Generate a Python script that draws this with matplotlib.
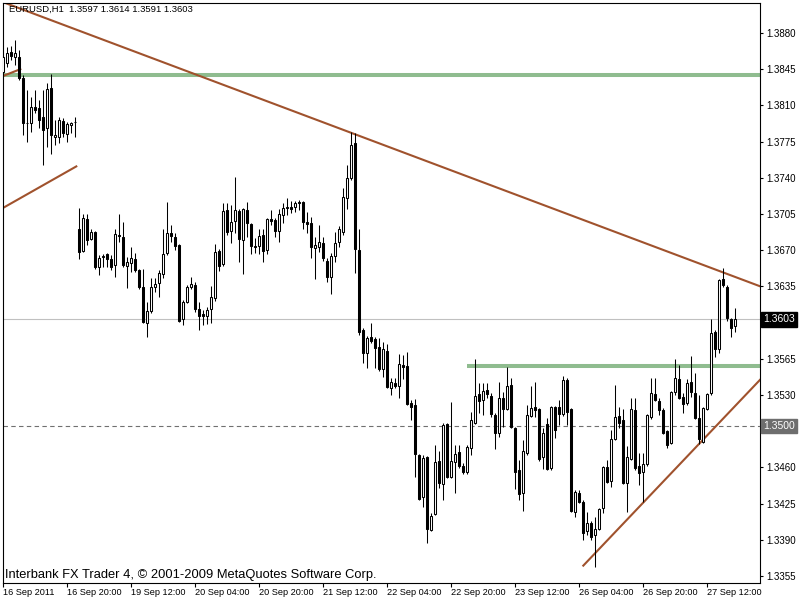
import matplotlib
matplotlib.use("Agg")
import matplotlib.pyplot as plt

plt.rcParams['font.family'] = ['Liberation Sans', 'DejaVu Sans']

# EURUSD H1 candles, bar 0 = 16 Sep 2011
opens = [1.3842, 1.3851, 1.3862, 1.3857, 1.3857, 1.3836, 1.3793, 1.3793, 1.3808, 1.3807,
         1.3799, 1.3788, 1.3827, 1.3779, 1.3779, 1.3795, 1.3782, 1.3791, 1.3794, 1.3690,
         1.3669, 1.3700, 1.3681, 1.3688, 1.3654, 1.3663, 1.3666, 1.3661, 1.3656, 1.3685,
         1.3683, 1.3655, 1.3658, 1.3661, 1.3651, 1.3634, 1.3600, 1.3611, 1.3634, 1.3638,
         1.3647, 1.3667, 1.3687, 1.3683, 1.3675, 1.3603, 1.3620, 1.3634, 1.3636, 1.3613,
         1.3608, 1.3606, 1.3613, 1.3624, 1.3669, 1.3657, 1.3709, 1.3689, 1.3698, 1.3708,
         1.3680, 1.3709, 1.3695, 1.3674, 1.3674, 1.3685, 1.3670, 1.3700, 1.3699, 1.3689,
         1.3704, 1.3711, 1.3712, 1.3712, 1.3717, 1.3717, 1.3697, 1.3696, 1.3672, 1.3673,
         1.3677, 1.3660, 1.3644, 1.3664, 1.3678, 1.3688, 1.3720, 1.3740, 1.3774, 1.3670,
         1.3593, 1.3571, 1.3586, 1.3584, 1.3576, 1.3555, 1.3573, 1.3537, 1.3542, 1.3539,
         1.3559, 1.3558, 1.3522, 1.3520, 1.3472, 1.3431, 1.3470, 1.3399, 1.3415, 1.3466,
         1.3444, 1.3502, 1.3451, 1.3465, 1.3475, 1.3461, 1.3456, 1.3479, 1.3503, 1.3531,
         1.3525, 1.3535, 1.3529, 1.3511, 1.3493, 1.3527, 1.3516, 1.3540, 1.3498, 1.3457,
         1.3435, 1.3474, 1.3510, 1.3518, 1.3516, 1.3470, 1.3502, 1.3459, 1.3518, 1.3518,
         1.3512, 1.3544, 1.3516, 1.3417, 1.3435, 1.3427, 1.3398, 1.3406, 1.3395, 1.3400,
         1.3421, 1.3460, 1.3447, 1.3487, 1.3510, 1.3506, 1.3445, 1.3468, 1.3515, 1.3461,
         1.3456, 1.3463, 1.3509, 1.3531, 1.3524, 1.3515, 1.3495, 1.3484, 1.3533, 1.3545,
         1.3528, 1.3522, 1.3543, 1.3532, 1.3508, 1.3485, 1.3516, 1.3532, 1.3591, 1.3574,
         1.3642, 1.3634, 1.3603, 1.3597]
highs = [1.3861, 1.3866, 1.3867, 1.3873, 1.3864, 1.3839, 1.3825, 1.3818, 1.3825, 1.3815,
         1.3825, 1.3832, 1.3840, 1.3796, 1.3799, 1.3798, 1.3794, 1.3794, 1.3799, 1.3711,
         1.3705, 1.3705, 1.3690, 1.3689, 1.3665, 1.3666, 1.3667, 1.3665, 1.3690, 1.3705,
         1.3697, 1.3663, 1.3673, 1.3667, 1.3652, 1.3652, 1.3620, 1.3643, 1.3643, 1.3651,
         1.3690, 1.3717, 1.3694, 1.3687, 1.3676, 1.3622, 1.3636, 1.3644, 1.3639, 1.3620,
         1.3612, 1.3615, 1.3635, 1.3676, 1.3671, 1.3716, 1.3716, 1.3714, 1.3741, 1.3710,
         1.3711, 1.3717, 1.3696, 1.3682, 1.3690, 1.3690, 1.3701, 1.3709, 1.3701, 1.3710,
         1.3716, 1.3720, 1.3718, 1.3718, 1.3719, 1.3718, 1.3707, 1.3702, 1.3683, 1.3694,
         1.3683, 1.3662, 1.3667, 1.3688, 1.3693, 1.3730, 1.3752, 1.3784, 1.3783, 1.3690,
         1.3595, 1.3587, 1.3600, 1.3586, 1.3585, 1.3581, 1.3579, 1.3546, 1.3546, 1.3570,
         1.3569, 1.3572, 1.3525, 1.3526, 1.3473, 1.3472, 1.3471, 1.3416, 1.3482, 1.3476,
         1.3503, 1.3503, 1.3523, 1.3482, 1.3482, 1.3464, 1.3482, 1.3514, 1.3565, 1.3542,
         1.3542, 1.3542, 1.3532, 1.3513, 1.3543, 1.3533, 1.3557, 1.3546, 1.3499, 1.3467,
         1.3486, 1.3520, 1.3539, 1.3543, 1.3517, 1.3498, 1.3508, 1.3519, 1.3519, 1.3525,
         1.3548, 1.3546, 1.3517, 1.3438, 1.3438, 1.3428, 1.3417, 1.3408, 1.3412, 1.3421,
         1.3461, 1.3467, 1.3496, 1.3540, 1.3518, 1.3516, 1.3481, 1.3527, 1.3527, 1.3474,
         1.3474, 1.3512, 1.3546, 1.3546, 1.3527, 1.3517, 1.3496, 1.3534, 1.3565, 1.3559,
         1.3532, 1.3545, 1.3568, 1.3551, 1.3530, 1.3518, 1.3532, 1.3603, 1.3593, 1.3642,
         1.3653, 1.3636, 1.3604, 1.3614]
lows = [1.3841, 1.3847, 1.3854, 1.3849, 1.3835, 1.3781, 1.3775, 1.3784, 1.3803, 1.3788,
        1.3752, 1.3770, 1.3763, 1.3772, 1.3774, 1.3779, 1.3775, 1.3783, 1.3779, 1.3661,
        1.3668, 1.3675, 1.3680, 1.3652, 1.3646, 1.3654, 1.3654, 1.3651, 1.3644, 1.3678,
        1.3654, 1.3633, 1.3649, 1.3649, 1.3632, 1.3600, 1.3586, 1.3609, 1.3630, 1.3625,
        1.3643, 1.3665, 1.3678, 1.3670, 1.3601, 1.3598, 1.3619, 1.3632, 1.3610, 1.3593,
        1.3598, 1.3599, 1.3600, 1.3621, 1.3650, 1.3655, 1.3685, 1.3677, 1.3687, 1.3659,
        1.3647, 1.3683, 1.3666, 1.3667, 1.3666, 1.3659, 1.3666, 1.3694, 1.3683, 1.3678,
        1.3696, 1.3704, 1.3706, 1.3707, 1.3709, 1.3690, 1.3687, 1.3662, 1.3642, 1.3668,
        1.3660, 1.3639, 1.3628, 1.3659, 1.3673, 1.3685, 1.3710, 1.3738, 1.3648, 1.3588,
        1.3561, 1.3556, 1.3580, 1.3556, 1.3553, 1.3547, 1.3537, 1.3530, 1.3537, 1.3527,
        1.3545, 1.3520, 1.3506, 1.3451, 1.3428, 1.3422, 1.3387, 1.3398, 1.3414, 1.3440,
        1.3428, 1.3450, 1.3450, 1.3435, 1.3459, 1.3454, 1.3454, 1.3472, 1.3502, 1.3513,
        1.3511, 1.3527, 1.3509, 1.3478, 1.3489, 1.3499, 1.3515, 1.3498, 1.3439, 1.3428,
        1.3418, 1.3472, 1.3509, 1.3509, 1.3466, 1.3458, 1.3457, 1.3457, 1.3488, 1.3501,
        1.3510, 1.3501, 1.3417, 1.3412, 1.3426, 1.3390, 1.3395, 1.3390, 1.3364, 1.3399,
        1.3416, 1.3445, 1.3441, 1.3486, 1.3498, 1.3444, 1.3417, 1.3467, 1.3457, 1.3443,
        1.3427, 1.3461, 1.3507, 1.3524, 1.3511, 1.3492, 1.3479, 1.3483, 1.3530, 1.3526,
        1.3513, 1.3520, 1.3528, 1.3507, 1.3483, 1.3484, 1.3515, 1.3530, 1.3567, 1.3571,
        1.3634, 1.3602, 1.3586, 1.3591]
closes = [1.3857, 1.3861, 1.3858, 1.3861, 1.3836, 1.3793, 1.3793, 1.3808, 1.3806, 1.3796,
          1.3786, 1.3826, 1.3781, 1.3781, 1.3796, 1.3783, 1.3792, 1.3793, 1.3794, 1.3668,
          1.3701, 1.3680, 1.3688, 1.3654, 1.3662, 1.3664, 1.3661, 1.3654, 1.3686, 1.3684,
          1.3656, 1.3659, 1.3662, 1.3651, 1.3634, 1.3601, 1.3611, 1.3634, 1.3637, 1.3648,
          1.3666, 1.3687, 1.3684, 1.3674, 1.3602, 1.3620, 1.3634, 1.3637, 1.3613, 1.3606,
          1.3606, 1.3612, 1.3625, 1.3668, 1.3655, 1.3708, 1.3688, 1.3697, 1.3709, 1.3681,
          1.3710, 1.3696, 1.3674, 1.3673, 1.3684, 1.3669, 1.3700, 1.3698, 1.3689, 1.3705,
          1.3711, 1.3712, 1.3710, 1.3716, 1.3716, 1.3697, 1.3695, 1.3673, 1.3675, 1.3678,
          1.3662, 1.3644, 1.3664, 1.3677, 1.3690, 1.3721, 1.3740, 1.3772, 1.3671, 1.3591,
          1.3571, 1.3585, 1.3582, 1.3575, 1.3555, 1.3574, 1.3538, 1.3543, 1.3539, 1.3560,
          1.3557, 1.3521, 1.3518, 1.3473, 1.3429, 1.3469, 1.3400, 1.3413, 1.3465, 1.3445,
          1.3501, 1.3451, 1.3466, 1.3473, 1.3461, 1.3456, 1.3480, 1.3506, 1.3529, 1.3524,
          1.3534, 1.3531, 1.3512, 1.3493, 1.3527, 1.3516, 1.3539, 1.3499, 1.3456, 1.3434,
          1.3476, 1.3511, 1.3517, 1.3515, 1.3468, 1.3493, 1.3458, 1.3518, 1.3496, 1.3512,
          1.3544, 1.3514, 1.3418, 1.3436, 1.3427, 1.3397, 1.3406, 1.3393, 1.3400, 1.3420,
          1.3460, 1.3446, 1.3487, 1.3509, 1.3503, 1.3445, 1.3470, 1.3516, 1.3459, 1.3455,
          1.3463, 1.3511, 1.3532, 1.3525, 1.3515, 1.3493, 1.3482, 1.3533, 1.3546, 1.3527,
          1.3521, 1.3542, 1.3533, 1.3508, 1.3487, 1.3517, 1.3531, 1.3590, 1.3574, 1.3641,
          1.3636, 1.3604, 1.3595, 1.3603]

time_ticks = [0, 16, 32, 48, 64, 80, 96, 112, 128, 144, 160, 176]
time_labels = ['16 Sep 2011', '16 Sep 20:00', '19 Sep 12:00', '20 Sep 04:00',
               '20 Sep 20:00', '21 Sep 12:00', '22 Sep 04:00', '22 Sep 20:00',
               '23 Sep 12:00', '26 Sep 04:00', '26 Sep 20:00', '27 Sep 12:00']
price_ticks = [1.3355, 1.3390, 1.3425, 1.3460, 1.3495, 1.3530, 1.3565, 1.3600,
               1.3635, 1.3670, 1.3705, 1.3740, 1.3775, 1.3810, 1.3845, 1.3880]
# these two sit under the bid / level boxes
price_hidden = [1.3495, 1.3600]

# objects drawn on the chart (bar index, price)
down_trend = [(0.5, 1.3909), (189.25, 1.3635)]
up_trend_x = [145, 190]
up_trend_y = [1.3365, 1.3548]
left_trend_x = [0, 18.25]
left_trend_y = [1.3711, 1.3751]
top_trend_x = [-1, 4.25]
top_trend_y = [1.3837, 1.3845]
res_top = 1.3839
res_mid = 1.3558
res_mid_start = 116
bid = 1.3603
level = 1.3500

fig = plt.figure(figsize=(8, 6), dpi=100)
ax = fig.add_axes([2.5 / 800, 17 / 600, 757.5 / 800, 580 / 600])
ax.set_xlim(-0.2, 189.175)
ax.set_ylim(1.33482, 1.3909)

brown = '#A0522D'
green = '#8FBC8F'

ax.axhline(res_top, color=green, lw=2.9, zorder=1)
ax.hlines(res_mid, res_mid_start, 200, color=green, lw=2.9, zorder=1)
ax.axhline(bid, color='#C0C0C0', lw=0.8, zorder=1)
ax.axhline(level, color='#707070', lw=0.8, ls=(0, (4, 3)), zorder=1)

ax.axline(down_trend[0], down_trend[1], color=brown, lw=1.5, zorder=2)
ax.plot(up_trend_x, up_trend_y, color=brown, lw=1.5, zorder=2)
ax.plot(left_trend_x, left_trend_y, color=brown, lw=1.5, zorder=2)
ax.plot(top_trend_x, top_trend_y, color=brown, lw=1.5, zorder=2)

xs = list(range(len(opens)))
ax.vlines(xs, lows, highs, color='black', lw=0.75, zorder=3)
bottoms = [min(o, c) for o, c in zip(opens, closes)]
heights = [abs(c - o) for o, c in zip(opens, closes)]
faces = ['white' if c >= o else 'black' for o, c in zip(opens, closes)]
ax.bar(xs, heights, bottom=bottoms, width=0.5, color=faces,
       edgecolor='black', linewidth=0.75, zorder=4)

for s in ax.spines.values():
    s.set_color('black')
    s.set_linewidth(0.8)

ax.yaxis.tick_right()
ax.set_yticks(price_ticks, ['' if p in price_hidden else f'{p:.4f}' for p in price_ticks])
ax.tick_params(axis='y', length=2.5, width=0.8, pad=2, labelsize=7)
ax.set_xticks(time_ticks, time_labels)
ax.tick_params(axis='x', length=3, width=0.8, pad=0.5, labelsize=6.6)
for lab in ax.get_xticklabels():
    lab.set_horizontalalignment('left')

ytr = ax.get_yaxis_transform()
ax.text(1.004, bid, f'{bid:.4f}', transform=ytr, color='white', fontsize=7.5,
        va='center', ha='left', clip_on=False, zorder=10,
        bbox=dict(boxstyle='square,pad=0.2', fc='black', ec='black'))
ax.text(1.004, level, f'{level:.4f}', transform=ytr, color='white', fontsize=7.5,
        va='center', ha='left', clip_on=False, zorder=10,
        bbox=dict(boxstyle='square,pad=0.2', fc='#6E6E6E', ec='#6E6E6E'))

ax.text(0.008, 0.997, 'EURUSD,H1  %.4f %.4f %.4f %.4f' % (opens[-1], highs[-1], lows[-1], closes[-1]),
        transform=ax.transAxes, fontsize=6.8, va='top', ha='left', zorder=10)
ax.text(0.003, 0.004, 'Interbank FX Trader 4, \u00a9 2001-2009 MetaQuotes Software Corp.',
        transform=ax.transAxes, fontsize=9.3, va='bottom', ha='left', zorder=10)

plt.savefig('out.png', dpi=100)
